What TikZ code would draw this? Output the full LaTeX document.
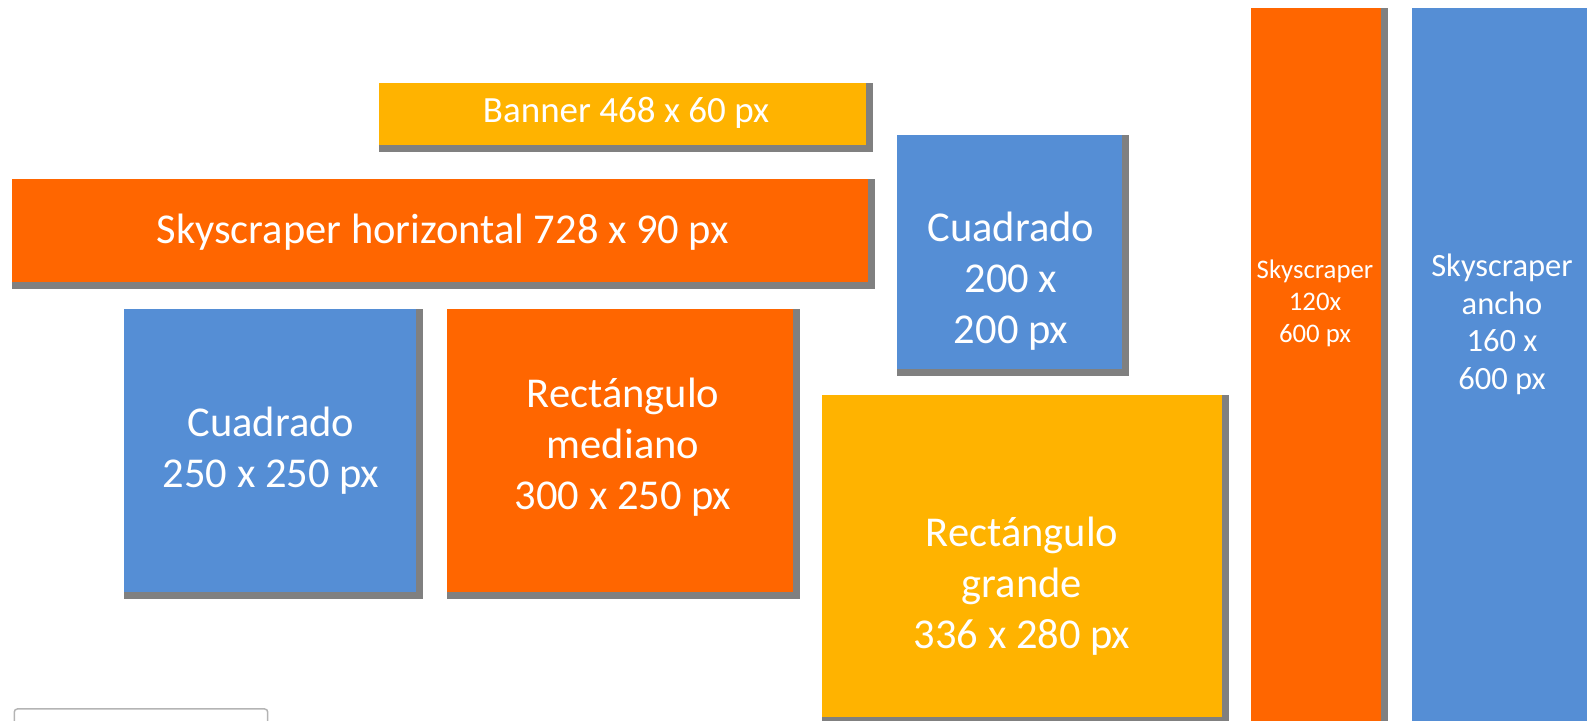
\documentclass[tikz,border=0pt]{standalone}
\usepackage{fontspec}
\setmainfont{Carlito}
\usetikzlibrary{backgrounds}
\definecolor{naranja}{HTML}{FF6600}
\definecolor{azul}{HTML}{558ED5}
\definecolor{amarillo}{HTML}{FFB300}
\definecolor{sombra}{HTML}{808080}
\definecolor{marco}{HTML}{B4B4B4}
\tikzset{
    caja/.style={inner sep=0pt, outer sep=0pt, anchor=north west},
    txt/.style={text=white, align=center, inner sep=0pt},
    letragrande/.style={font=\fontsize{21.25}{25.5}\selectfont},
}
\begin{document}
\begin{tikzpicture}[x=0.5pt, y=-0.5pt]
        \useasboundingbox (0,0) rectangle (1587,721);
        % cajas de anuncios
        \node[caja, fill=amarillo, minimum width=243.35pt, minimum height=30.85pt] (banner) at (379,83.3) {};
        \node[caja, fill=naranja, minimum width=428pt, minimum height=51.35pt] (horiz) at (12,179) {};
        \node[caja, fill=azul, minimum width=112.65pt, minimum height=117pt] (cuad200) at (897,135) {};
        \node[caja, fill=azul, minimum width=146pt, minimum height=141.5pt] (cuad250) at (124,309) {};
        \node[caja, fill=naranja, minimum width=173pt, minimum height=141.5pt] (mediano) at (447,309) {};
        \node[caja, fill=amarillo, minimum width=199.85pt, minimum height=160.85pt] (grande) at (822,395) {};
        \node[caja, fill=naranja, minimum width=65.15pt, minimum height=370pt] (sky120) at (1251,8) {};
        \node[caja, fill=azul, minimum width=100pt, minimum height=370pt] (ancho) at (1412,8) {};
        % sombras
        \begin{scope}[on background layer]
            \foreach \n in {banner,horiz,cuad200,cuad250,mediano,grande,sky120,ancho}
                \fill[sombra] (\n.north west) rectangle ([shift={(7,7)}]\n.south east);
        \end{scope}
        % textos
        \node[txt, font=\fontsize{18.5}{22}\selectfont, anchor=base] (tbanner) at (626,122.3) {Banner 468 x 60 px};
        \node[txt, letragrande, anchor=base] (thoriz) at (442.7,243.5) {Skyscraper horizontal 728 x 90 px};
        \node[txt, letragrande] (tcuad200) at (1011,281) {Cuadrado\\200 x\\200 px};
        \node[txt, letragrande] (tcuad250) at (271,451) {Cuadrado\\250 x 250 px};
        \node[txt, letragrande] (tmediano) at (623,447.5) {Rectángulo\\mediano\\300 x 250 px};
        \node[txt, letragrande] (tgrande) at (1022,586) {Rectángulo\\grande\\336 x 280 px};
        \node[txt, font=\fontsize{13.4}{16}\selectfont] (tsky120) at (1315,303.5) {Skyscraper\\120x\\600 px};
        \node[txt, font=\fontsize{16.25}{18.8}\selectfont] (tancho) at (1502,324.5) {Skyscraper\\ancho\\160 x\\600 px};
        % marco abajo a la izquierda
        \draw[marco, line width=0.75pt, rounded corners=1.5pt] (14.3,740) -- (14.3,709) -- (267.7,709) -- (267.7,740);
\end{tikzpicture}
\end{document}
